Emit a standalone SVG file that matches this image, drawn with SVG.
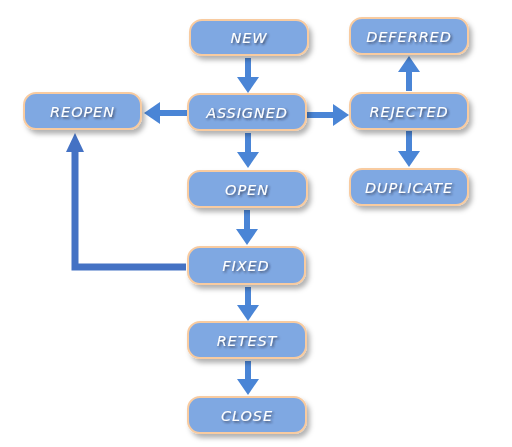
<svg xmlns="http://www.w3.org/2000/svg" width="512" height="447" viewBox="0 0 512 447">
<defs>
<filter id="sh" x="-20%" y="-30%" width="150%" height="180%"><feDropShadow dx="3" dy="4" stdDeviation="2.5" flood-color="#000" flood-opacity="0.3"/></filter>
<filter id="tsh" x="-20%" y="-50%" width="140%" height="200%"><feDropShadow dx="1.5" dy="1.5" stdDeviation="1" flood-color="#223" flood-opacity="0.7"/></filter>
<marker id="ah" markerUnits="userSpaceOnUse" markerWidth="16" markerHeight="22" refX="0" refY="11" orient="auto" viewBox="0 0 16 22"><path d="M0,0 L16,11 L0,22 z" fill="#4a85d6"/></marker>
<marker id="ah2" markerUnits="userSpaceOnUse" markerWidth="19" markerHeight="18" refX="0" refY="9" orient="auto" viewBox="0 0 19 18"><path d="M0,0 L19,9 L0,18 z" fill="#4472c4"/></marker>
</defs>
<style>
.n rect{fill:#7fa8e2;stroke:#f8cba0;stroke-width:2;filter:url(#sh)}
.n text{font-family:"DejaVu Sans","Liberation Sans",sans-serif;font-style:italic;font-size:14.5px;fill:#fff;text-anchor:middle;filter:url(#tsh);letter-spacing:0.9px}
.c path{fill:none;stroke:#4a85d6;stroke-width:6;marker-end:url(#ah)}
.c path.l{stroke:#4472c4;stroke-width:7;marker-end:url(#ah2)}
</style>
<rect width="512" height="447" fill="#fff"/>
<g class="c" id="connectors">
<path d="M248,58 V77"/>
<path d="M248,133 V152"/>
<path d="M247,210 V229"/>
<path d="M248,287 V305"/>
<path d="M248,361 V379"/>
<path d="M409,91 V72"/>
<path d="M409,131 V151"/>
<path d="M187,113 H160"/>
<path d="M307,115 H333"/>
<path class="l" d="M186,267 H75 V152"/>
</g>
<g class="n" id="new"><rect x="190" y="20" width="118" height="35" rx="12"/><text x="249" y="43">NEW</text></g>
<g class="n" id="assigned"><rect x="188" y="94" width="118" height="36" rx="12"/><text x="247" y="117.5">ASSIGNED</text></g>
<g class="n" id="open"><rect x="188" y="171" width="119" height="36" rx="12"/><text x="247" y="194.5">OPEN</text></g>
<g class="n" id="fixed"><rect x="188" y="247" width="117" height="37" rx="12"/><text x="246" y="271">FIXED</text></g>
<g class="n" id="retest"><rect x="188" y="322" width="118" height="36" rx="12"/><text x="247" y="345.5">RETEST</text></g>
<g class="n" id="close"><rect x="188" y="397" width="118" height="36" rx="12"/><text x="247" y="420.5">CLOSE</text></g>
<g class="n" id="reopen"><rect x="24" y="93" width="117" height="36" rx="12"/><text x="82.5" y="116.5">REOPEN</text></g>
<g class="n" id="deferred"><rect x="350" y="18" width="118" height="36" rx="12"/><text x="409" y="41.5">DEFERRED</text></g>
<g class="n" id="rejected"><rect x="350" y="93" width="118" height="36" rx="12"/><text x="409" y="116.5">REJECTED</text></g>
<g class="n" id="duplicate"><rect x="350" y="169" width="118" height="36" rx="12"/><text x="409" y="192.5">DUPLICATE</text></g>
</svg>
